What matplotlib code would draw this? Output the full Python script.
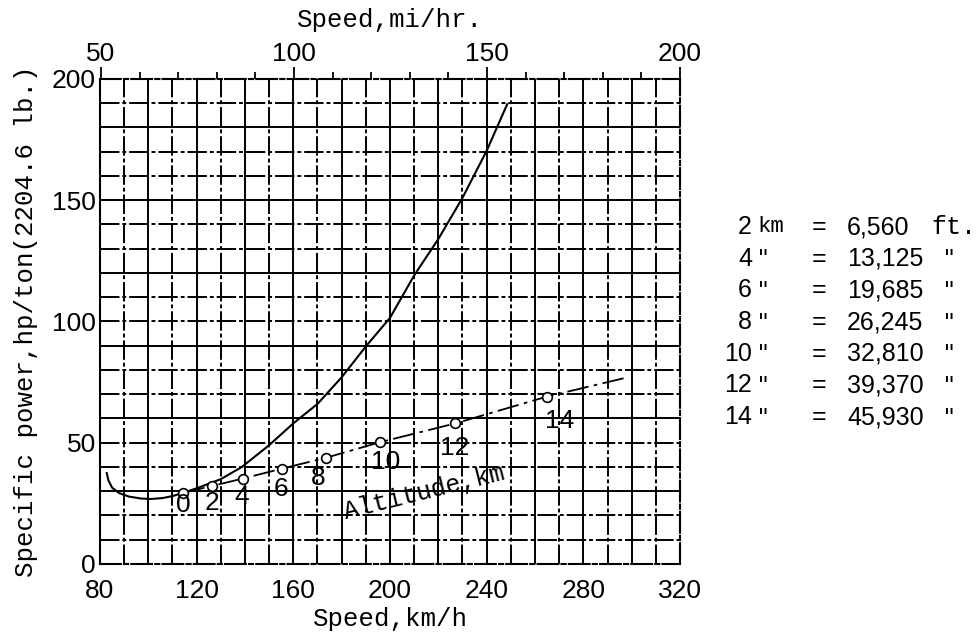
import numpy as np
import matplotlib.pyplot as plt

KMH_PER_MI = 1.609344

# power required curve (km/h, hp/ton)
curve_speed = [82.8, 83.5, 85, 88, 92, 97, 101, 106, 110, 114.5, 120, 130, 138.7,
               150, 160, 170, 180, 190, 200, 210, 220, 230, 240, 248.5]
curve_power = [37.5, 34.5, 31.5, 29.2, 27.8, 27.0, 26.8, 27.2, 28.0, 29.4, 31.2,
               35.0, 40.0, 49.0, 58.0, 66.0, 77.0, 89.7, 101.5, 119.0, 134.0,
               151.0, 170.4, 189.6]

# altitude line (km/h, hp/ton), markers at 0..14 km
alt_km = [0, 2, 4, 6, 8, 10, 12, 14]
alt_speed = [114.5, 126.5, 139.0, 155.2, 173.5, 195.8, 227.1, 264.8]
alt_power = [29.4, 32.2, 35.2, 39.3, 43.8, 50.2, 58.0, 69.0]
alt_end = (297.6, 76.8)

conv_km = ["2", "4", "6", "8", "10", "12", "14"]
conv_unit = ["km", '"', '"', '"', '"', '"', '"']
conv_ft = ["6,560", "13,125", "19,685", "26,245", "32,810", "39,370", "45,930"]
conv_tail = ["ft.", '"', '"', '"', '"', '"', '"']

mono = "Liberation Mono"
num = "Liberation Sans"
dashdot = (0, (10, 1.5, 2, 1.5))

fig = plt.figure(figsize=(9.79, 6.37), dpi=100)
ax = fig.add_axes([0.1021, 0.1146, 0.5925, 0.7614])
ax.set_xlim(80, 320)
ax.set_ylim(0, 200)

for x in range(90, 320, 10):
    ax.axvline(x, color="black", lw=1.4, ls=dashdot if x % 20 else "-", zorder=1)
for y in range(10, 200, 10):
    ax.axhline(y, color="black", lw=1.4, ls=dashdot if y % 30 else "-", zorder=1)

ax.plot(curve_speed, curve_power, color="black", lw=1.5, zorder=3)
ax.plot(alt_speed + [alt_end[0]], alt_power + [alt_end[1]], color="black", lw=1.3,
        ls=(0, (12, 3, 2, 3)), zorder=3)
ax.plot(alt_speed, alt_power, "o", ms=7, mfc="white", mec="black", mew=1.2, zorder=4)

# label offsets from each marker (km/h, hp/ton)
label_dx = [0, -0.3, -0.4, -0.5, -3, 2.5, -0.2, 5.5]
label_dy = [-5.2, -7, -7.4, -8.4, -8.3, -8, -10.2, -9.9]
for k, x, y, dx, dy in zip(alt_km, alt_speed, alt_power, label_dx, label_dy):
    ax.text(x + dx, y + dy, str(k), ha="center", va="center", fontsize=19,
            family=num, zorder=5)
ax.text(214, 29.5, "Altitude,km", rotation=14, ha="center", va="center",
        fontsize=18, family=mono, zorder=5)

ax.set_xticks(range(80, 321, 40))
ax.set_yticks(range(0, 201, 50))
ax.tick_params(length=0, labelsize=19)
for lab in ax.get_xticklabels() + ax.get_yticklabels():
    lab.set_family(num)
ax.tick_params(axis="y", pad=3)
ax.tick_params(axis="x", pad=11)
ax.set_xlabel("Speed,km/h", family=mono, fontsize=18.5, labelpad=3)
ax.set_ylabel("Specific power,hp/ton(2204.6 lb.)", family=mono, fontsize=18.5,
              labelpad=10)

for side in ["top", "right", "bottom"]:
    ax.spines[side].set_linestyle(dashdot)
for sp in ax.spines.values():
    sp.set_linewidth(1.5)

top = ax.twiny()
top.set_xlim(80 / KMH_PER_MI, 200)
top.set_xticks([50, 100, 150, 200])
top.set_xticks(range(60, 200, 10), minor=True)
top.tick_params(which="major", length=9, width=1.3, direction="out", labelsize=19, pad=0)
top.tick_params(which="minor", length=5, width=1.3, direction="out")
for lab in top.get_xticklabels():
    lab.set_family(num)
top.set_xlabel("Speed,mi/hr.", family=mono, fontsize=18.5, labelpad=11)
for sp in top.spines.values():
    sp.set_visible(False)

y0 = 227
for i in range(len(conv_km)):
    yy = 1 - (y0 + i * 31.7) / 637
    fig.text(752 / 979, yy, conv_km[i], ha="right", va="center", fontsize=18, family=num)
    fig.text(757 / 979, yy, conv_unit[i], ha="left", va="center",
             fontsize=16 if i == 0 else 15, family=mono)
    fig.text(819 / 979, yy, "=", ha="center", va="center", fontsize=18, family=num)
    fig.text(847 / 979, yy, conv_ft[i], ha="left", va="center", fontsize=18, family=num)
    fig.text((931 if i == 0 else 943) / 979, yy, conv_tail[i], ha="left", va="center",
             fontsize=18 if i == 0 else 15, family=mono)

fig.savefig("out.png", dpi=100)
plt.close(fig)
